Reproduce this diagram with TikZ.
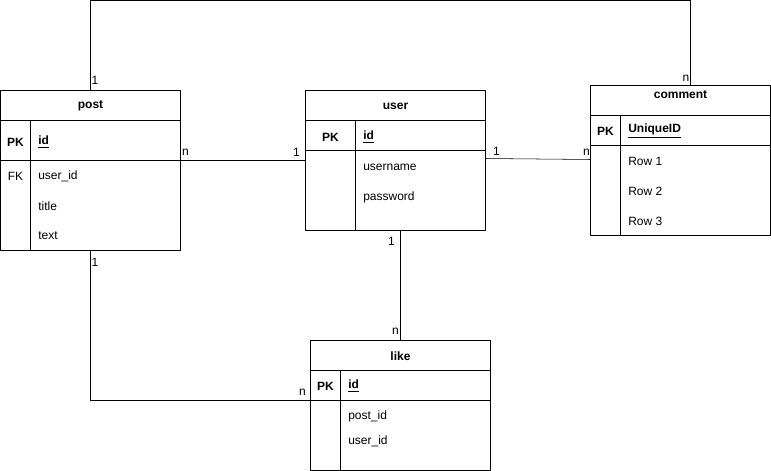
\documentclass[tikz,border=0pt]{standalone}
\usepackage{fontspec}
\setmainfont{Liberation Sans}
\usetikzlibrary{positioning}
\begin{document}
\begin{tikzpicture}[x=0.75pt, y=-0.75pt, font=\fontsize{9}{11}\selectfont, line join=round, line cap=round,
	title/.style={font=\fontsize{9}{11}\selectfont\bfseries, inner sep=0pt},
	key/.style={font=\fontsize{9}{11}\selectfont\bfseries, inner sep=0pt},
	field/.style={anchor=west, inner sep=0pt},
	keyfield/.style={anchor=west, inner sep=0pt, font=\fontsize{9}{11}\selectfont\bfseries},
	card/.style={inner sep=0pt}]
	\useasboundingbox (0,0) rectangle (771,471);
	% table corners
	\coordinate (P1) at (0.5,90.5);   \coordinate (P2) at (180.5,250.5);
	\coordinate (U1) at (305.5,90.5); \coordinate (U2) at (485.5,230.5);
	\coordinate (C1) at (590.5,85.5); \coordinate (C2) at (770.5,235.5);
	\coordinate (L1) at (310.5,340.5); \coordinate (L2) at (490.5,470.5);
	% post
	\draw (P1) rectangle (P2);
	\draw (0.5,120.5)--(180.5,120.5) (0.5,160.5)--(180.5,160.5) (30.5,120.5)--(30.5,250.5);
	\node[title] (post) at (90.5,106) {post};
	\node[key] (postpk) at (15.5,142) {PK};
	\node[keyfield] (postid) at (38,142) {\underline{id}};
	\node[inner sep=0pt] (postfk) at (15.5,176) {FK};
	\node[field] (postuser) at (38,176) {user\_id};
	\node[field] (posttitle) at (38,206) {title};
	\node[field] (posttext) at (38,236) {text};
	% user
	\draw (U1) rectangle (U2);
	\draw (305.5,120.5)--(485.5,120.5) (305.5,150.5)--(485.5,150.5) (355.5,120.5)--(355.5,230.5);
	\node[title] (user) at (395.5,106) {user};
	\node[key] (userpk) at (330.5,137) {PK};
	\node[keyfield] (userid) at (363,137) {\underline{id}};
	\node[field] (username) at (363,167) {username};
	\node[field] (userpass) at (363,197) {password};
	% comment
	\draw (C1) rectangle (C2);
	\draw (590.5,115.5)--(770.5,115.5) (590.5,145.5)--(770.5,145.5) (620.5,115.5)--(620.5,235.5);
	\node[title] (comment) at (680.5,94.5) {comment};
	\node[key] (commentpk) at (605.5,131) {PK};
	\node[keyfield] (commentid) at (628,131) {\underline{UniqueID}};
	\node[field] (row1) at (628,161) {Row 1};
	\node[field] (row2) at (628,191) {Row 2};
	\node[field] (row3) at (628,221) {Row 3};
	% like
	\draw (L1) rectangle (L2);
	\draw (310.5,370.5)--(490.5,370.5) (310.5,400.5)--(490.5,400.5) (340.5,370.5)--(340.5,470.5);
	\node[title] (like) at (400.5,356) {like};
	\node[key] (likepk) at (325.5,386) {PK};
	\node[keyfield] (likeid) at (348,386) {\underline{id}};
	\node[field] (likepost) at (348,416) {post\_id};
	\node[field] (likeuser) at (348,441) {user\_id};
	% connectors
	\coordinate (postN) at (90.5,90.5);  \coordinate (commentN) at (690.5,85.5);
	\coordinate (postE) at (180.5,160.5); \coordinate (userW) at (305.5,160.5);
	\coordinate (userE) at (485.5,158.5); \coordinate (commentW) at (590.5,159.5);
	\coordinate (userS) at (400.5,230.5); \coordinate (likeN) at (400.5,340.5);
	\coordinate (postS) at (90.5,250.5); \coordinate (likeW) at (310.5,400.5);
	\draw (postN) -- (postN |- 0,0.5) -- (commentN |- 0,0.5) -- (commentN);
	\draw (postE) -- (userW);
	\draw (userE) -- (commentW);
	\draw (userS) -- (likeN);
	\draw (postS) |- (likeW);
	% cardinalities
	\node[card] at (95,80) {1};
	\node[card] at (686,78) {n};
	\node[card] at (185.5,152) {n};
	\node[card] at (296.5,152) {1};
	\node[card] at (496.5,151) {1};
	\node[card] at (586.5,152) {n};
	\node[card] at (391.5,241) {1};
	\node[card] at (395.5,331) {n};
	\node[card] at (95,262) {1};
	\node[card] at (302.5,392) {n};
\end{tikzpicture}
\end{document}
